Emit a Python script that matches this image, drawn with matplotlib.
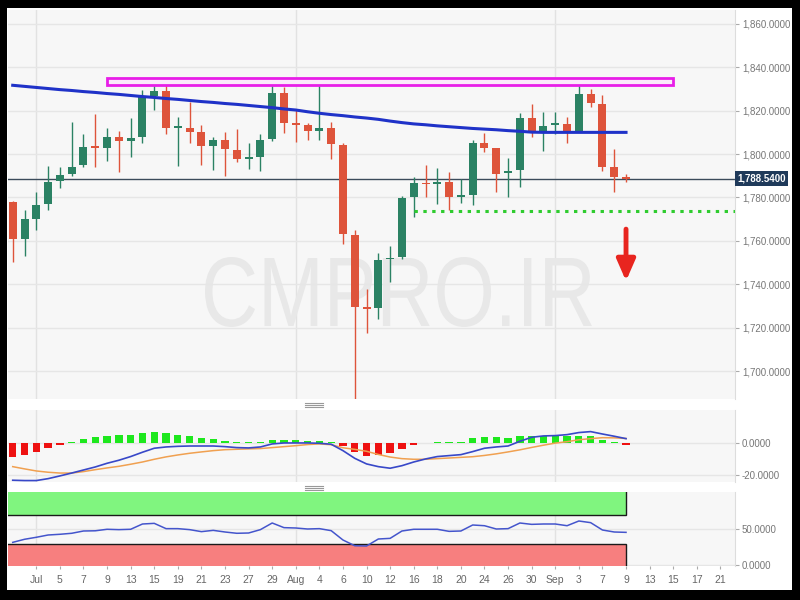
import numpy as np
import pandas as pd
import matplotlib
matplotlib.use("Agg")
import matplotlib.pyplot as plt
from matplotlib.patches import Rectangle, PathPatch
from matplotlib.lines import Line2D
from matplotlib.textpath import TextPath
from matplotlib.font_manager import FontProperties
from matplotlib.transforms import Affine2D, IdentityTransform, blended_transform_factory

plt.rcParams["font.family"] = ["Liberation Sans", "DejaVu Sans"]

# daily XAU/USD sessions, Jun 29 - Sep 9
dates = pd.bdate_range("2021-06-29", "2021-09-09")

opens = [1778.0, 1760.8, 1770.0, 1777.0, 1787.7, 1790.8, 1794.8, 1803.4, 1803.0, 1808.0,
         1806.1, 1807.7, 1826.9, 1829.2, 1812.0, 1812.1, 1810.0, 1803.7, 1806.5, 1801.8,
         1797.6, 1798.8, 1807.0, 1828.2, 1814.1, 1813.4, 1810.6, 1811.8, 1804.1, 1762.7,
         1729.3, 1728.9, 1751.5, 1752.4, 1780.0, 1786.8, 1786.2, 1787.2, 1780.3, 1781.1,
         1805.2, 1802.6, 1791.1, 1792.6, 1816.7, 1810.3, 1813.4, 1813.7, 1810.3, 1827.5,
         1823.0, 1794.2, 1789.0]
highs = [1778.5, 1774.0, 1782.3, 1794.5, 1794.0, 1815.0, 1809.2, 1818.3, 1812.0, 1810.7,
         1816.4, 1829.5, 1833.8, 1832.1, 1817.2, 1824.1, 1813.4, 1808.0, 1810.0, 1811.5,
         1805.0, 1809.2, 1831.8, 1830.7, 1820.3, 1814.5, 1832.3, 1814.9, 1805.0, 1765.0,
         1738.0, 1754.2, 1757.6, 1780.5, 1789.2, 1794.9, 1793.4, 1791.8, 1788.3, 1806.5,
         1809.5, 1803.0, 1798.0, 1819.0, 1823.0, 1819.2, 1819.5, 1817.0, 1833.8, 1829.8,
         1827.2, 1802.2, 1790.6]
lows = [1750.4, 1753.0, 1765.0, 1774.2, 1784.5, 1790.0, 1794.0, 1793.9, 1797.0, 1791.6,
        1798.8, 1805.0, 1820.3, 1809.2, 1794.5, 1805.2, 1794.8, 1792.6, 1789.9, 1796.5,
        1793.0, 1792.3, 1806.0, 1809.8, 1805.7, 1806.5, 1806.5, 1797.5, 1758.4, 1687.0,
        1717.7, 1723.8, 1741.2, 1751.5, 1771.1, 1780.3, 1777.0, 1774.2, 1777.6, 1776.5,
        1800.8, 1782.6, 1780.0, 1784.6, 1807.7, 1801.5, 1809.2, 1805.0, 1810.0, 1821.5,
        1792.3, 1782.6, 1787.0]
closes = [1760.8, 1770.0, 1776.4, 1787.2, 1790.3, 1794.2, 1803.4, 1802.9, 1808.0, 1806.0,
          1807.2, 1826.7, 1829.0, 1812.1, 1812.3, 1810.3, 1803.7, 1806.5, 1802.2, 1797.6,
          1798.5, 1806.5, 1828.0, 1814.1, 1813.6, 1810.7, 1811.8, 1804.5, 1763.1, 1729.6,
          1728.6, 1751.2, 1752.2, 1779.6, 1786.8, 1786.0, 1787.2, 1780.0, 1781.1, 1805.2,
          1802.6, 1790.6, 1792.2, 1816.7, 1810.0, 1813.0, 1813.8, 1810.0, 1827.5, 1823.4,
          1794.2, 1789.2, 1788.54]
moving_avg = [1831.7, 1831.2, 1830.7, 1830.2, 1829.7, 1829.3, 1828.8, 1828.4, 1827.9, 1827.5,
              1827.0, 1826.5, 1826.1, 1825.6, 1825.2, 1824.7, 1824.2, 1823.8, 1823.3, 1822.9,
              1822.4, 1821.9, 1821.4, 1820.8, 1820.3, 1819.5, 1818.8, 1818.2, 1817.7, 1817.1,
              1816.6, 1816.0, 1815.2, 1814.5, 1813.9, 1813.5, 1813.0, 1812.6, 1812.2, 1811.8,
              1811.5, 1811.2, 1810.8, 1810.5, 1810.1, 1810.0, 1810.0, 1810.0, 1810.0, 1810.0,
              1810.0, 1810.0, 1810.0]

macd_line = [-23.1, -23.3, -23.3, -22.1, -20.4, -18.6, -16.7, -14.8, -12.5, -10.6,
             -8.3, -5.6, -3.1, -2.3, -1.9, -1.7, -1.7, -1.7, -2.1, -2.7,
             -2.9, -2.3, -0.4, 0.2, 0.2, 0.2, 0.0, -0.6, -4.6, -9.4,
             -12.9, -14.6, -15.6, -14.0, -11.7, -9.8, -8.3, -7.7, -7.1, -5.2,
             -3.1, -2.3, -1.7, 1.25, 3.75, 4.6, 4.8, 5.4, 6.7, 7.3,
             5.8, 4.4, 2.9]
signal_line = [-14.6, -16.0, -17.3, -18.1, -18.6, -18.6, -17.7, -16.5, -15.4, -14.4,
               -13.1, -11.7, -10.0, -8.5, -7.3, -6.25, -5.4, -4.6, -4.0, -3.75,
               -3.5, -3.3, -2.7, -2.1, -1.5, -0.8, -0.4, -0.9, -2.8, -3.8,
               -5.0, -7.0, -8.6, -9.6, -10.0, -10.0, -9.6, -9.2, -8.8, -8.4,
               -7.6, -6.6, -5.4, -4.1, -2.6, -1.2, 0.1, 1.0, 2.2, 2.9,
               3.5, 3.4, 3.0]
macd_hist = [-8.75, -7.3, -5.2, -2.7, -0.6, 0.3, 2.5, 3.75, 4.6, 5.2,
             5.4, 6.6, 7.3, 6.25, 5.4, 4.6, 3.3, 2.5, 1.7, 0.6,
             0.4, 0.5, 2.1, 2.1, 1.9, 1.5, 1.25, 0.5, -1.4, -5.6,
             -7.9, -7.3, -6.25, -3.75, -1.0, 0.0, 0.5, 0.5, 0.6, 3.3,
             4.2, 4.0, 3.5, 4.8, 4.8, 4.8, 4.6, 4.4, 4.4, 4.4,
             2.3, 0.4, -0.4]
rsi = [31.7, 36.0, 38.8, 42.0, 43.0, 44.4, 47.6, 47.9, 50.0, 49.5,
       50.0, 57.4, 58.3, 50.9, 50.9, 49.5, 46.7, 48.5, 46.2, 44.4,
       44.8, 49.5, 58.8, 52.3, 51.8, 50.4, 50.9, 48.1, 35.0, 27.0,
       26.6, 36.4, 37.3, 47.6, 50.0, 50.0, 50.0, 47.1, 47.6, 56.0,
       55.0, 50.4, 50.9, 58.8, 56.9, 57.4, 57.4, 55.0, 61.6, 59.3,
       49.0, 46.2, 45.7]

tick_labels = ["Jul", "5", "7", "9", "13", "15", "19", "21", "23", "27", "29",
               "Aug", "4", "6", "10", "12", "16", "18", "20", "24", "26", "30",
               "Sep", "3", "7", "9", "13", "15", "17", "21"]

last_price = 1788.54
resistance = (1832.0, 1835.2)   # zone from Jul 9 to Sep 15
support = 1773.7                # from Aug 16 onward
arrow_from, arrow_to = 1765.4, 1741.5

x = np.arange(len(dates))
first_jul = 2                      # Jul 1 sits at x = 2
tick_pos = first_jul + 2 * np.arange(len(tick_labels))
month_pos = [2, 24, 46]            # Jul 1, Aug 2, Sep 1
XLIM = (-0.4, 61.24)

UP, DOWN = "#2b8264", "#de543b"
BG = "#f7f7f7"
GRID = "#e6e6e6"
LABEL = "#777777"

fig = plt.figure(figsize=(8, 6), dpi=100, facecolor="black")
fig.add_artist(Rectangle((7 / 800, 10 / 600), 785 / 800, 582 / 600,
                         transform=fig.transFigure, facecolor="white", edgecolor="none", zorder=-5))


def panel(top, bottom):
    ax = fig.add_axes([8 / 800, 1 - bottom / 600, 727 / 800, (bottom - top) / 600])
    ax.set_facecolor(BG)
    for s in ("left", "top", "bottom"):
        ax.spines[s].set_visible(False)
    ax.spines["right"].set_color("#dddddd")
    ax.yaxis.tick_right()
    ax.tick_params(axis="y", length=3, color="#aaaaaa", labelcolor=LABEL, labelsize=7, pad=2)
    ax.set_xlim(*XLIM)
    for m in month_pos:
        ax.axvline(m, color="#e2e2e2", lw=1, zorder=0.6)
    return ax


ax = panel(10, 399)
ax_macd = panel(410, 482)
ax_rsi = panel(492, 566)

# ---- price panel
ax.set_ylim(1687.1, 1866.4)
ax.set_yticks(np.arange(1700, 1861, 20))
ax.set_yticklabels([f"{v:,.4f}" for v in np.arange(1700, 1861, 20)])
ax.set_xticks([])
ax.grid(axis="y", color=GRID, lw=1, zorder=0.6)

# watermark
tp = TextPath((0, 0), "CMPRO.IR", size=100, prop=FontProperties(family="Liberation Sans"))
ext = tp.get_extents()
tr = (Affine2D().translate(-ext.x0, -ext.y0)
      .scale((592 - 205) / ext.width, (327 - 257) / ext.height)
      .translate(205, 600 - 327))
ax.add_patch(PathPatch(tr.transform_path(tp), transform=IdentityTransform(),
                       facecolor="#e8e8e8", edgecolor="none", zorder=0.7))

o, h, l, c = map(np.array, (opens, highs, lows, closes))
colors = np.where(c >= o, UP, DOWN)
body_lo = np.minimum(o, c)
body_h = np.maximum(np.abs(c - o), 0.8)
ax.vlines(x, l, h, colors=colors, lw=1, zorder=3)
ax.bar(x, body_h, bottom=body_lo, width=0.68, color=colors, zorder=4)

ax.plot(x, moving_avg, color="#1f32c8", lw=2.2, zorder=5)
ax.axhline(last_price, color="#3b4b5b", lw=1, zorder=2.5)

ax.add_patch(Rectangle((8, resistance[0]), 48, resistance[1] - resistance[0],
                       facecolor="#fbeafb", edgecolor="#e81ee8", lw=2, zorder=5))
ax.hlines(support, 34, XLIM[1], color="#2fcc2f", lw=2.2,
          linestyles=[(0, (1.1, 1.8))], zorder=5)
ax.annotate("", xy=(52, arrow_to), xytext=(52, arrow_from),
            arrowprops=dict(arrowstyle="-|>,head_width=0.35,head_length=0.8",
                            lw=3.5, color="#e8251f", mutation_scale=16,
                            shrinkA=0, shrinkB=0), zorder=6)

ax.text(1.003, last_price, f"{last_price:,.4f}", transform=blended_transform_factory(ax.transAxes, ax.transData),
        ha="left", va="center", color="white", fontsize=7, fontweight="bold", clip_on=False,
        bbox=dict(boxstyle="square,pad=0.25", facecolor="#1f3a5a", edgecolor="none"))

# ---- MACD panel
ax_macd.set_ylim(-24.2, 20.8)
ax_macd.set_yticks([-20, 0])
ax_macd.set_yticklabels([f"{v:.4f}" for v in (-20, 0)])
ax_macd.set_xticks([])
ax_macd.grid(axis="y", color=GRID, lw=1, zorder=0.6)
hist = np.array(macd_hist)
shown = np.where(hist >= 0, np.maximum(hist, 0.9), np.minimum(hist, -0.9))
shown[hist == 0] = 0
ax_macd.bar(x, shown, width=0.62, color=np.where(hist >= 0, "#1ee81e", "#ee1111"), zorder=3)
ax_macd.plot(x, signal_line, color="#f0a050", lw=1.1, zorder=4)
ax_macd.plot(x, macd_line, color="#3848c8", lw=1.2, zorder=5)

# ---- RSI panel
ax_rsi.set_ylim(-1.4, 102.2)
ax_rsi.set_yticks([0, 50])
ax_rsi.set_yticklabels([f"{v:.4f}" for v in (0, 50)])
ax_rsi.grid(axis="y", color=GRID, lw=1, zorder=0.6)
ax_rsi.add_patch(Rectangle((-5, 70), 57, 40, facecolor="#80f57f", edgecolor="#1a1a1a", lw=1, zorder=2))
ax_rsi.add_patch(Rectangle((-5, -10), 57, 40, facecolor="#f77f7f", edgecolor="#1a1a1a", lw=1, zorder=2))
ax_rsi.plot(x, rsi, color="#4455cc", lw=1.1, zorder=4)
ax_rsi.set_xticks(tick_pos)
ax_rsi.set_xticklabels(tick_labels)
ax_rsi.tick_params(axis="x", length=2.5, color="#aaaaaa", labelcolor="#666666", labelsize=7.5, pad=4)

# drag handles between panels
for yc in (405, 488):
    for dy in (-2, 0, 2):
        fig.add_artist(Line2D([305 / 800, 323 / 800], [1 - (yc + dy) / 600] * 2,
                              transform=fig.transFigure, color="#999999", lw=0.8))

fig.savefig("out.png", dpi=100, facecolor="black")
